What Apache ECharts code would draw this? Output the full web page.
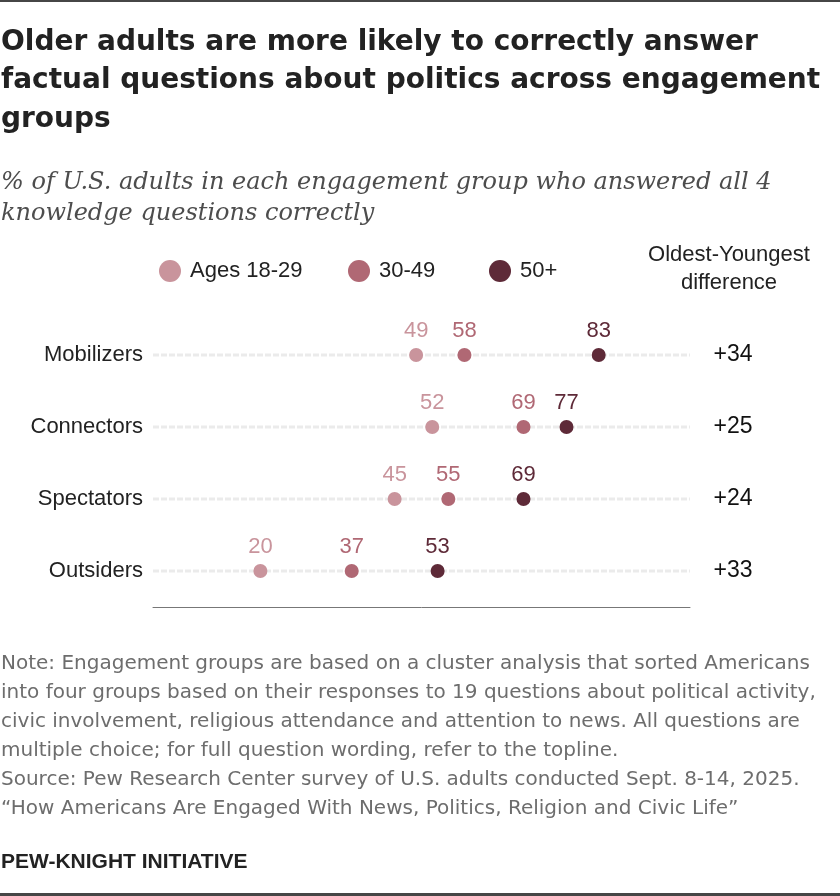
<!DOCTYPE html>
<html>
<head>
    <meta charset="utf-8">
    <title>ECharts</title>
    <script src="https://cdn.jsdelivr.net/npm/echarts@6.0.0/dist/echarts.min.js"></script>
</head>
<body style="margin:0;background:#fff;">
<style type="text/css">
#chart{width: 840px; height: 896px;}
</style>
    <div id="chart"></div>
    <script type="text/javascript">
        // data
        var categories = ['Mobilizers', 'Connectors', 'Spectators', 'Outsiders'];
        var ages1829 = [49, 52, 45, 20];
        var ages3049 = [58, 69, 55, 37];
        var ages50 = [83, 77, 69, 53];
        var differences = ['+34', '+25', '+24', '+33'];
        var seriesNames = ['Ages 18-29', '30-49', '50+'];
        var colors = ['#c9949c', '#b06874', '#5e2a38'];

        var sans = 'Liberation Sans, Arial, sans-serif';
        var chart = echarts.init(document.getElementById('chart'));

        function dots(name, values, color) {
            return {
                name: name,
                type: 'scatter',
                symbolSize: 14,
                z: 3,
                itemStyle: {color: color, opacity: 1},
                label: {
                    show: true,
                    position: 'top',
                    distance: 6,
                    color: color,
                    fontSize: 22,
                    fontFamily: sans,
                    formatter: function (p) { return p.value[0]; }
                },
                data: values.map(function (v, i) { return [v, categories[i]]; })
            };
        }

        // dotted guide line for each row
        var guides = categories.map(function (c) {
            return {
                type: 'line',
                silent: true,
                symbol: 'none',
                z: 1,
                lineStyle: {color: '#ebebeb', width: 3, type: [6, 2]},
                data: [[0, c], [100, c]]
            };
        });

        // one legend per item so each sits where the original has it
        var legendLeft = [159, 348, 489];
        var legends = seriesNames.map(function (n, i) {
            return {
                data: [n],
                icon: 'circle',
                itemWidth: 22,
                itemHeight: 22,
                padding: 0,
                left: legendLeft[i],
                top: 260,
                textStyle: {fontFamily: sans, fontSize: 22, color: '#222', padding: [0, 0, 0, 4]}
            };
        });

        chart.setOption({
            animation: false,
            title: [{
                text: 'Older adults are more likely to correctly answer\nfactual questions about politics across engagement\ngroups',
                left: 1, top: 23, padding: 0,
                textStyle: {fontFamily: 'DejaVu Sans', fontWeight: 'bold', fontSize: 28, lineHeight: 38.5, color: '#222'}
            }, {
                text: '% of U.S. adults in each engagement group who answered all 4\nknowledge questions correctly',
                left: 1, top: 167, padding: 0,
                textStyle: {fontFamily: 'DejaVu Serif', fontStyle: 'italic', fontWeight: 'normal', fontSize: 24, lineHeight: 31, color: '#4d4d4d'}
            }, {
                text: 'Oldest-Youngest\ndifference',
                left: 729, top: 241, padding: 0, textAlign: 'center',
                textStyle: {fontFamily: sans, fontWeight: 'normal', fontSize: 22, lineHeight: 28, color: '#222', align: 'center'}
            }, {
                text: 'Note: Engagement groups are based on a cluster analysis that sorted Americans\ninto four groups based on their responses to 19 questions about political activity,\ncivic involvement, religious attendance and attention to news. All questions are\nmultiple choice; for full question wording, refer to the topline.\nSource: Pew Research Center survey of U.S. adults conducted Sept. 8-14, 2025.\n\u201cHow Americans Are Engaged With News, Politics, Religion and Civic Life\u201d',
                left: 1, top: 649, padding: 0,
                textStyle: {fontFamily: 'DejaVu Sans', fontWeight: 'normal', fontSize: 20, lineHeight: 29, color: '#6d6d6d'}
            }, {
                text: 'PEW-KNIGHT INITIATIVE',
                left: 1, top: 850, padding: 0,
                textStyle: {fontFamily: sans, fontWeight: 'bold', fontSize: 21, lineHeight: 24, color: '#222'}
            }],
            graphic: [
                {type: 'rect', left: 0, top: 0, shape: {width: 840, height: 2}, style: {fill: '#464646'}},
                {type: 'rect', left: 0, top: 893, shape: {width: 840, height: 3}, style: {fill: '#464646'}}
            ],
            legend: legends,
            grid: {left: 153, right: 150, top: 319, bottom: 289},
            xAxis: {
                type: 'value',
                min: 0,
                max: 100,
                axisLine: {show: true, lineStyle: {color: '#777', width: 1}},
                axisTick: {show: false},
                axisLabel: {show: false},
                splitLine: {show: false}
            },
            yAxis: [{
                type: 'category',
                inverse: true,
                data: categories,
                axisLine: {show: false},
                axisTick: {show: false},
                axisLabel: {margin: 10, fontFamily: sans, fontSize: 22, color: '#222'}
            }, {
                type: 'category',
                inverse: true,
                position: 'right',
                data: categories,
                axisLine: {show: false},
                axisTick: {show: false},
                axisLabel: {
                    margin: 43, align: 'center', fontFamily: sans, fontSize: 23, color: '#111',
                    formatter: function (v, i) { return differences[i]; }
                }
            }],
            series: guides.concat([
                dots(seriesNames[0], ages1829, colors[0]),
                dots(seriesNames[1], ages3049, colors[1]),
                dots(seriesNames[2], ages50, colors[2])
            ])
        });
    </script>
</body>
</html>
